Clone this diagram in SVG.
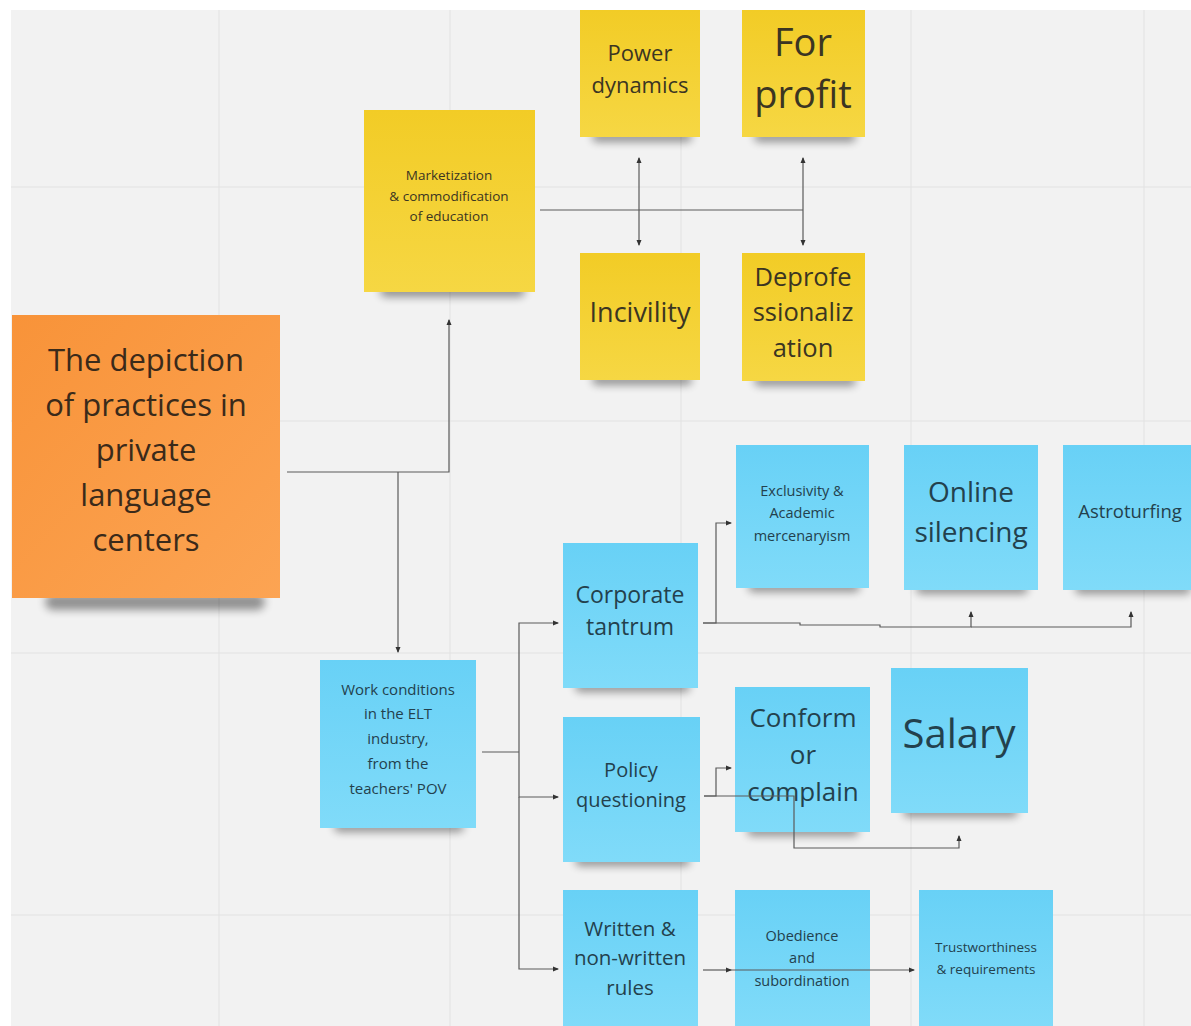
<svg xmlns="http://www.w3.org/2000/svg" width="1191" height="1026" viewBox="0 0 1191 1026">
<defs>
<style>
.t{font-family:"Open Sans","Liberation Sans",sans-serif;text-anchor:middle;}
.ty{fill:#3b3522;}
.tb{fill:#23414d;}
.to{fill:#3a2a1a;}
.grid line{stroke:#e2e2e2;stroke-width:1;}
.c path{fill:none;stroke:#5a5a5a;stroke-width:1.2;}
.ca{marker-end:url(#ah);}
.cs{marker-start:url(#ahs);}
.sh{fill:#000;opacity:0.4;filter:url(#blur);}
</style>
<linearGradient id="gy" x1="0" y1="0" x2="0" y2="1"><stop offset="0" stop-color="#f2cc26"/><stop offset="1" stop-color="#f6d743"/></linearGradient>
<linearGradient id="gb" x1="0" y1="0" x2="0" y2="1"><stop offset="0" stop-color="#68d1f6"/><stop offset="1" stop-color="#80dbf9"/></linearGradient>
<linearGradient id="go" x1="0" y1="0" x2="1" y2="1"><stop offset="0" stop-color="#f89339"/><stop offset="1" stop-color="#fca453"/></linearGradient>
<filter id="blur" x="-20%" y="-200%" width="140%" height="500%"><feGaussianBlur stdDeviation="4.5"/></filter>
<marker id="ah" markerWidth="6" markerHeight="6" refX="5" refY="3" orient="auto" markerUnits="userSpaceOnUse"><path d="M0,0.5 L6,3 L0,5.5 Z" fill="#333"/></marker>
<marker id="ahs" markerWidth="6" markerHeight="6" refX="1" refY="3" orient="auto" markerUnits="userSpaceOnUse"><path d="M6,0.5 L0,3 L6,5.5 Z" fill="#333"/></marker>
</defs>
<rect x="0" y="0" width="1191" height="1026" fill="#f2f2f2"/>
<rect x="0" y="0" width="1191" height="10" fill="#ffffff"/>
<rect x="0" y="0" width="11" height="1026" fill="#ffffff"/>
<g class="grid">
<line x1="219" y1="10" x2="219" y2="1026"/>
<line x1="450" y1="10" x2="450" y2="1026"/>
<line x1="681" y1="10" x2="681" y2="1026"/>
<line x1="911" y1="10" x2="911" y2="1026"/>
<line x1="1144" y1="10" x2="1144" y2="1026"/>
<line x1="11" y1="187" x2="1191" y2="187"/>
<line x1="11" y1="421" x2="1191" y2="421"/>
<line x1="11" y1="653" x2="1191" y2="653"/>
<line x1="11" y1="915" x2="1191" y2="915"/>
</g>

<g id="n-depiction">
<rect class="sh" x="45" y="594" width="220" height="16" rx="8"/>
<rect x="12" y="315" width="268" height="283" fill="url(#go)"/>
<text class="t to" font-size="31" x="146" y="371">The depiction</text>
<text class="t to" font-size="31" x="146" y="416">of practices in</text>
<text class="t to" font-size="31" x="146" y="461">private</text>
<text class="t to" font-size="31" x="146" y="506">language</text>
<text class="t to" font-size="31" x="146" y="551">centers</text>
</g>

<g id="n-marketization">
<rect class="sh" x="380" y="285" width="145" height="12" rx="6"/>
<rect x="364" y="110" width="171" height="182" fill="url(#gy)"/>
<text class="t ty" font-size="13.5" x="449" y="180">Marketization</text>
<text class="t ty" font-size="13.5" x="449" y="201">&amp; commodification</text>
<text class="t ty" font-size="13.5" x="449" y="221">of education</text>
</g>

<g id="n-power">
<rect class="sh" x="592" y="132" width="100" height="10" rx="5"/>
<rect x="580" y="10" width="120" height="127" fill="url(#gy)"/>
<text class="t ty" font-size="22" x="640" y="61">Power</text>
<text class="t ty" font-size="22" x="640" y="93">dynamics</text>
</g>

<g id="n-forprofit">
<rect class="sh" x="754" y="132" width="102" height="10" rx="5"/>
<rect x="742" y="10" width="123" height="127" fill="url(#gy)"/>
<text class="t ty" font-size="38" x="803" y="56">For</text>
<text class="t ty" font-size="38" x="803" y="108">profit</text>
</g>

<g id="n-incivility">
<rect class="sh" x="592" y="375" width="100" height="10" rx="5"/>
<rect x="580" y="253" width="120" height="127" fill="url(#gy)"/>
<text class="t ty" font-size="27" x="640" y="322">Incivility</text>
</g>

<g id="n-deprof">
<rect class="sh" x="754" y="376" width="102" height="10" rx="5"/>
<rect x="742" y="253" width="123" height="128" fill="url(#gy)"/>
<text class="t ty" font-size="25.5" x="803" y="286">Deprofe</text>
<text class="t ty" font-size="25.5" x="803" y="321">ssionaliz</text>
<text class="t ty" font-size="25.5" x="803" y="357">ation</text>
</g>

<g id="n-work">
<rect class="sh" x="334" y="822" width="130" height="10" rx="5"/>
<rect x="320" y="660" width="156" height="168" fill="url(#gb)"/>
<text class="t tb" font-size="15" x="398" y="695">Work conditions</text>
<text class="t tb" font-size="15" x="398" y="719">in the ELT</text>
<text class="t tb" font-size="15" x="398" y="744">industry,</text>
<text class="t tb" font-size="15" x="398" y="769">from the</text>
<text class="t tb" font-size="15" x="398" y="794">teachers' POV</text>
</g>

<g id="n-corporate">
<rect class="sh" x="575" y="682" width="115" height="10" rx="5"/>
<rect x="563" y="543" width="135" height="145" fill="url(#gb)"/>
<text class="t tb" font-size="23" x="630" y="603">Corporate</text>
<text class="t tb" font-size="23" x="630" y="635">tantrum</text>
</g>

<g id="n-policy">
<rect class="sh" x="575" y="856" width="115" height="10" rx="5"/>
<rect x="563" y="717" width="137" height="145" fill="url(#gb)"/>
<text class="t tb" font-size="20" x="631" y="777">Policy</text>
<text class="t tb" font-size="20" x="631" y="807">questioning</text>
</g>

<g id="n-written">
<rect x="563" y="890" width="135" height="136" fill="url(#gb)"/>
<text class="t tb" font-size="20.5" x="630" y="936">Written &amp;</text>
<text class="t tb" font-size="20.5" x="630" y="965">non-written</text>
<text class="t tb" font-size="20.5" x="630" y="995">rules</text>
</g>

<g id="n-exclusivity">
<rect class="sh" x="748" y="582" width="112" height="10" rx="5"/>
<rect x="736" y="445" width="133" height="143" fill="url(#gb)"/>
<text class="t tb" font-size="14.5" x="802" y="496">Exclusivity &amp;</text>
<text class="t tb" font-size="14.5" x="802" y="518">Academic</text>
<text class="t tb" font-size="14.5" x="802" y="541">mercenaryism</text>
</g>

<g id="n-online">
<rect class="sh" x="916" y="584" width="112" height="10" rx="5"/>
<rect x="904" y="445" width="134" height="145" fill="url(#gb)"/>
<text class="t tb" font-size="28" x="971" y="502">Online</text>
<text class="t tb" font-size="28" x="971" y="542">silencing</text>
</g>

<g id="n-astro">
<rect class="sh" x="1075" y="584" width="116" height="10" rx="5"/>
<rect x="1063" y="445" width="128" height="145" fill="url(#gb)"/>
<text class="t tb" font-size="18.5" x="1130" y="518">Astroturfing</text>
</g>

<g id="n-conform">
<rect class="sh" x="747" y="826" width="112" height="10" rx="5"/>
<rect x="735" y="687" width="135" height="145" fill="url(#gb)"/>
<text class="t tb" font-size="26" x="803" y="727">Conform</text>
<text class="t tb" font-size="26" x="803" y="764">or</text>
<text class="t tb" font-size="26" x="803" y="801">complain</text>
</g>

<g id="n-salary">
<rect class="sh" x="903" y="807" width="115" height="10" rx="5"/>
<rect x="891" y="668" width="137" height="145" fill="url(#gb)"/>
<text class="t tb" font-size="40" x="959" y="748">Salary</text>
</g>

<g id="n-obedience">
<rect x="735" y="890" width="135" height="136" fill="url(#gb)"/>
<text class="t tb" font-size="14.5" x="802" y="941">Obedience</text>
<text class="t tb" font-size="14.5" x="802" y="963">and</text>
<text class="t tb" font-size="14.5" x="802" y="986">subordination</text>
</g>

<g id="n-trust">
<rect x="919" y="890" width="134" height="136" fill="url(#gb)"/>
<text class="t tb" font-size="13.5" x="986" y="952">Trustworthiness</text>
<text class="t tb" font-size="13.5" x="986" y="974">&amp; requirements</text>
</g>

<g id="connectors" class="c">
<path class="ca" d="M287,472 H449 V320"/>
<path class="ca" d="M398,472 V652"/>
<path d="M540,210 H803"/>
<path class="ca cs" d="M639,158 V245"/>
<path class="ca cs" d="M803,158 V245"/>
<path d="M482,752 H519"/>
<path class="ca" d="M519,752 V623 H558"/>
<path class="ca" d="M519,752 V797 H558"/>
<path class="ca" d="M519,797 V969 H558"/>
<path class="ca" d="M703,623 H716 V523 H731"/>
<path class="ca" d="M703,623 H800 V625 H880 V627 H971 V612"/>
<path class="ca" d="M971,627 H1131 V612"/>
<path class="ca" d="M704,796 H716 V768 H731"/>
<path class="ca" d="M704,796 H794 V848 H959 V836"/>
<path class="ca" d="M703,970 H731"/>
<path class="ca" d="M731,970 H914"/>
</g>
</svg>
